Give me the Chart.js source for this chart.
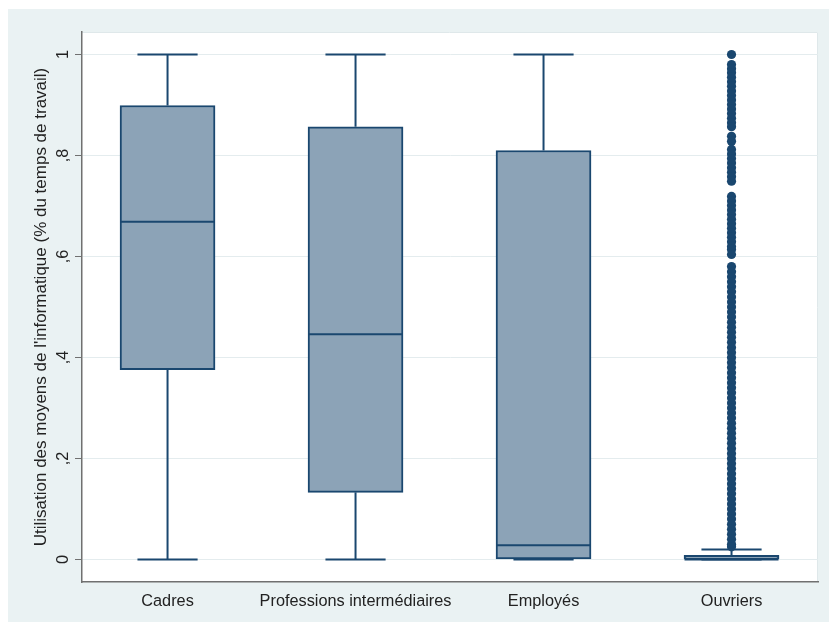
<!DOCTYPE html>
<html><head><meta charset="utf-8">
<script src="https://cdn.jsdelivr.net/npm/chart.js@4.4.1/dist/chart.umd.min.js"></script>
<style>
html,body{margin:0;padding:0;background:#fff;}
#wrap{position:absolute;left:8px;top:9px;width:821px;height:613px;background:#eaf2f3;}
canvas{display:block;}
</style></head><body>
<div id="wrap"><canvas id="c" width="821" height="613"></canvas></div>
<script>
const categories = ["Cadres", "Professions intermédiaires", "Employés", "Ouvriers"];
const positions = [1, 2, 3, 4];
const whiskerLow = [0, 0, 0, 0];
const q1 = [0.376, 0.133, 0, 0];
const median = [0.669, 0.446, 0.028, 0];
const q3 = [0.899, 0.857, 0.81, 0.008];
const whiskerHigh = [1, 1, 1, 0.02];
const ouvriersOutliers = [
  1.0, 0.98, 0.972, 0.964, 0.955, 0.946, 0.937, 0.928, 0.919, 0.91, 0.901, 0.892, 0.883, 0.874, 0.865, 0.857,
  0.838, 0.828, 0.812, 0.803, 0.794, 0.785, 0.776, 0.767, 0.758, 0.749,
  0.719, 0.71, 0.701, 0.692, 0.683, 0.674, 0.665, 0.656, 0.647, 0.638, 0.629, 0.62, 0.614, 0.604,
  0.58, 0.57, 0.56, 0.55, 0.54, 0.53, 0.52, 0.51, 0.5, 0.49, 0.48, 0.47, 0.46, 0.45, 0.44, 0.43, 0.42, 0.41,
  0.4, 0.39, 0.38, 0.37, 0.36, 0.35, 0.34, 0.33, 0.32, 0.31, 0.3, 0.29, 0.28, 0.27, 0.26, 0.25, 0.24, 0.23,
  0.22, 0.21, 0.2, 0.19, 0.18, 0.17, 0.16, 0.15, 0.14, 0.13, 0.12, 0.11, 0.1, 0.09, 0.08, 0.07, 0.06, 0.05,
  0.04, 0.03, 0.025
];
const yTicks = [0, 0.2, 0.4, 0.6, 0.8, 1];
const yTickLabels = ["0", ",2", ",4", ",6", ",8", "1"];
const yTitle = "Utilisation des moyens de l'informatique (% du temps de travail)";

const NAVY = '#1a476f';
const FILL = '#8ca3b7';
const TEXT = '#222222';
const AXIS = '#707070';
const BOX_HALF = 0.25;
const CAP_HALF = 0.16;

function seg(x1, y1, x2, y2, w) {
  return {type: 'line', data: [{x: x1, y: y1}, {x: x2, y: y2}], borderColor: NAVY, borderWidth: w,
    pointRadius: 0, fill: false, tension: 0, order: 2};
}
const datasets = [];
datasets.push({type: 'scatter', data: ouvriersOutliers.map(v => ({x: positions[3], y: v})),
  pointRadius: 4.6, pointBackgroundColor: NAVY, pointBorderWidth: 0, order: 0});
positions.forEach((x, i) => {
  datasets.push(seg(x, q3[i], x, whiskerHigh[i], 2));
  datasets.push(seg(x, whiskerLow[i], x, q1[i], 2));
  datasets.push(seg(x - CAP_HALF, whiskerHigh[i], x + CAP_HALF, whiskerHigh[i], 2));
  datasets.push(seg(x - CAP_HALF, whiskerLow[i], x + CAP_HALF, whiskerLow[i], 2));
  datasets.push(Object.assign(seg(x - BOX_HALF, median[i], x + BOX_HALF, median[i], 2), {order: 1}));
});
datasets.push({type: 'bar', data: positions.map((x, i) => ({x: x, y: [q1[i], q3[i]]})),
  backgroundColor: FILL, borderColor: NAVY, borderWidth: 2, borderSkipped: false,
  barThickness: 95, order: 3});

const areaPlugin = {
  id: 'area',
  beforeDraw(chart) {
    const {ctx, chartArea: a} = chart;
    ctx.save();
    ctx.fillStyle = '#ffffff';
    ctx.fillRect(a.left, a.top, a.right - a.left, a.bottom - a.top);
    ctx.strokeStyle = '#dfe8ea';
    ctx.lineWidth = 1;
    ctx.beginPath();
    ctx.moveTo(a.left, a.top + 0.5); ctx.lineTo(a.right - 0.5, a.top + 0.5); ctx.lineTo(a.right - 0.5, a.bottom);
    ctx.stroke();
    ctx.restore();
  }
};

new Chart(document.getElementById('c'), {
  type: 'bar',
  data: {datasets},
  plugins: [areaPlugin],
  options: {
    responsive: false,
    animation: false,
    layout: {padding: {left: 0, top: 23, right: 11, bottom: 0}},
    plugins: {legend: {display: false}, tooltip: {enabled: false}},
    scales: {
      x: {
        type: 'linear', min: 0.545, max: 4.46, offset: false,
        afterBuildTicks: s => { s.ticks = positions.map(v => ({value: v})); },
        afterFit: s => { s.height = 40; },
        grid: {display: true, drawOnChartArea: false, drawTicks: false, offset: false},
        border: {display: true, color: AXIS, width: 1.5},
        ticks: {callback: (v, i) => categories[i], padding: 10, maxRotation: 0, minRotation: 0,
          font: {family: 'Liberation Sans, Arial, sans-serif', size: 16.3}, color: TEXT}
      },
      y: {
        type: 'linear', min: -0.0446, max: 1.0446,
        afterBuildTicks: s => { s.ticks = yTicks.map(v => ({value: v})); },
        afterFit: s => { s.width = 74; },
        grid: {color: '#e4ecee', tickColor: AXIS, tickLength: 7, lineWidth: 1},
        border: {display: true, color: AXIS, width: 1.5},
        ticks: {callback: (v, i) => yTickLabels[i], minRotation: 90, maxRotation: 90, crossAlign: 'center',
          padding: 5, font: {family: 'Liberation Sans, Arial, sans-serif', size: 16.3}, color: TEXT},
        title: {display: true, text: yTitle, color: TEXT, padding: {top: 23, bottom: 0},
          font: {family: 'Liberation Sans, Arial, sans-serif', size: 17}}
      }
    }
  }
});
</script>
</body></html>
